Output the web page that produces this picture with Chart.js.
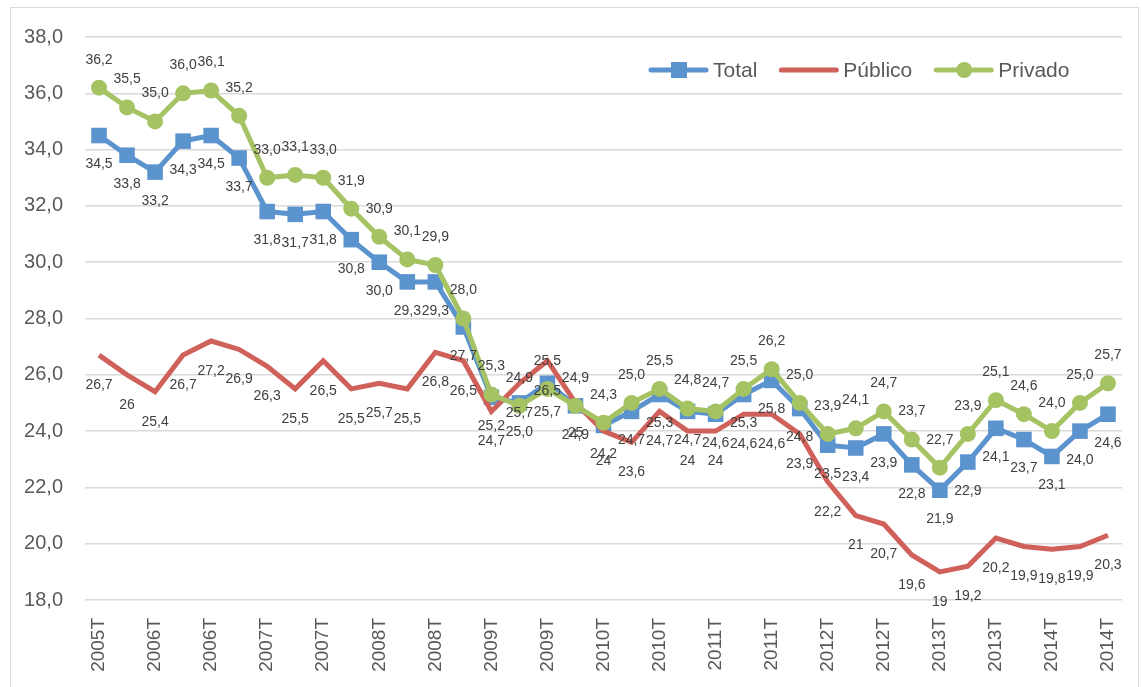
<!DOCTYPE html>
<html>
<head>
<meta charset="utf-8">
<script src="https://cdn.jsdelivr.net/npm/chart.js@4.4.1/dist/chart.umd.min.js"></script>
<style>
  html, body { margin: 0; padding: 0; background: #fff; }
  canvas { display: block; }
</style>
</head>
<body>
<canvas id="chart" width="1142" height="687"></canvas>
<script>
// quarters 2005T4 .. 2014T4, the axis shows only the first 5 chars (last digit clipped in the original)
const quarters = [
    '2005T4',
    '2006T1', '2006T2', '2006T3', '2006T4',
    '2007T1', '2007T2', '2007T3', '2007T4',
    '2008T1', '2008T2', '2008T3', '2008T4',
    '2009T1', '2009T2', '2009T3', '2009T4',
    '2010T1', '2010T2', '2010T3', '2010T4',
    '2011T1', '2011T2', '2011T3', '2011T4',
    '2012T1', '2012T2', '2012T3', '2012T4',
    '2013T1', '2013T2', '2013T3', '2013T4',
    '2014T1', '2014T2', '2014T3', '2014T4'
];

const total = [34.5, 33.8, 33.2, 34.3, 34.5, 33.7, 31.8, 31.7, 31.8, 30.8, 30.0, 29.3, 29.3, 27.7,
    25.2, 25.0, 25.7, 24.9, 24.2, 24.7, 25.3, 24.7, 24.6, 25.3, 25.8, 24.8, 23.5, 23.4,
    23.9, 22.8, 21.9, 22.9, 24.1, 23.7, 23.1, 24.0, 24.6];

const publico = [26.7, 26, 25.4, 26.7, 27.2, 26.9, 26.3, 25.5, 26.5, 25.5, 25.7, 25.5, 26.8, 26.5,
    24.7, 25.7, 26.5, 25, 24, 23.6, 24.7, 24, 24, 24.6, 24.6, 23.9, 22.2, 21,
    20.7, 19.6, 19, 19.2, 20.2, 19.9, 19.8, 19.9, 20.3];

const privado = [36.2, 35.5, 35.0, 36.0, 36.1, 35.2, 33.0, 33.1, 33.0, 31.9, 30.9, 30.1, 29.9, 28.0,
    25.3, 24.9, 25.5, 24.9, 24.3, 25.0, 25.5, 24.8, 24.7, 25.5, 26.2, 25.0, 23.9, 24.1,
    24.7, 23.7, 22.7, 23.9, 25.1, 24.6, 24.0, 25.0, 25.7];

const yMin = 18, yMax = 38, yStep = 2;

const BLUE = '#5B93CE', RED = '#CF615A', GREEN = '#A6C364';
const FONT = "'Liberation Sans', Arial, sans-serif";

const comma = (v, fixed) => (fixed ? v.toFixed(1) : String(v)).replace('.', ',');

// white background + light frame like the excel chart box
const frame = {
    id: 'frame',
    beforeDraw(chart) {
        const c = chart.ctx;
        c.save();
        c.fillStyle = '#fff';
        c.fillRect(0, 0, chart.width, chart.height);
        c.strokeStyle = '#D9D9D9';
        c.lineWidth = 1;
        c.strokeRect(10.5, 7.5, chart.width - 14, chart.height);
        c.restore();
    }
};

// value labels next to each point
const valueLabels = {
    id: 'valueLabels',
    afterDatasetsDraw(chart) {
        const c = chart.ctx;
        c.save();
        c.font = '14px ' + FONT;
        c.fillStyle = '#404040';
        c.textAlign = 'center';
        c.textBaseline = 'middle';
        chart.data.datasets.forEach((ds, i) => {
            const meta = chart.getDatasetMeta(i);
            meta.data.forEach((pt, j) => {
                c.fillText(comma(ds.data[j], ds.fixedLabel), pt.x, pt.y + ds.labelOffset);
            });
        });
        c.restore();
    }
};

// legend drawn inside the plot, line + marker like excel
const lineLegend = {
    id: 'lineLegend',
    afterDraw(chart) {
        const c = chart.ctx;
        const area = chart.chartArea;
        let x = area.left + 566;
        const y = area.top + 33;
        c.save();
        c.font = '21px ' + FONT;
        c.textBaseline = 'middle';
        chart.data.datasets.forEach(ds => {
            c.strokeStyle = ds.borderColor;
            c.lineWidth = 5;
            c.lineCap = 'round';
            c.beginPath();
            c.moveTo(x, y);
            c.lineTo(x + 55, y);
            c.stroke();
            c.fillStyle = ds.borderColor;
            if (ds.pointStyle === 'rect') {
                c.fillRect(x + 20, y - 8, 16, 16);
            } else if (ds.pointRadius > 0) {
                c.beginPath();
                c.arc(x + 28, y, 8, 0, Math.PI * 2);
                c.fill();
            }
            c.fillStyle = '#595959';
            c.fillText(ds.label, x + 62, y + 1);
            x += 62 + c.measureText(ds.label).width + 24;
        });
        c.restore();
    }
};

new Chart(document.getElementById('chart'), {
    type: 'line',
    data: {
        labels: quarters,
        datasets: [
            {
                label: 'Total',
                data: total,
                borderColor: BLUE,
                backgroundColor: BLUE,
                borderWidth: 5,
                pointStyle: 'rect',
                pointRadius: 11,
                pointBorderWidth: 0,
                tension: 0,
                order: 2,
                fixedLabel: true,
                labelOffset: 29
            },
            {
                label: 'Público',
                data: publico,
                borderColor: RED,
                backgroundColor: RED,
                borderWidth: 5,
                pointRadius: 0,
                tension: 0,
                order: 1,
                fixedLabel: false,
                labelOffset: 30
            },
            {
                label: 'Privado',
                data: privado,
                borderColor: GREEN,
                backgroundColor: GREEN,
                borderWidth: 5,
                pointStyle: 'circle',
                pointRadius: 8,
                pointBorderWidth: 0,
                tension: 0,
                order: 0,
                fixedLabel: true,
                labelOffset: -28
            }
        ]
    },
    options: {
        responsive: false,
        animation: false,
        devicePixelRatio: 1,
        layout: {
            padding: { left: 0, top: 37, right: 20, bottom: 0 }
        },
        plugins: {
            legend: { display: false },
            tooltip: { enabled: false }
        },
        scales: {
            x: {
                offset: true,
                grid: { display: false },
                border: { display: false },
                ticks: {
                    autoSkip: false,
                    minRotation: 90,
                    maxRotation: 90,
                    padding: 10,
                    color: '#595959',
                    font: { family: FONT, size: 19 },
                    callback: function (value, index) {
                        return index % 2 === 0 ? this.getLabelForValue(value).slice(0, 5) : '';
                    }
                },
                afterFit: scale => { scale.height = 87; }
            },
            y: {
                min: yMin,
                max: yMax,
                grid: { color: '#D9D9D9', lineWidth: 1.5, drawTicks: false },
                border: { display: false },
                ticks: {
                    stepSize: yStep,
                    padding: 22,
                    color: '#595959',
                    font: { family: FONT, size: 20 },
                    callback: v => comma(v, true)
                },
                afterFit: scale => { scale.width = 85; }
            }
        }
    },
    plugins: [frame, valueLabels, lineLegend]
});
</script>
</body>
</html>
